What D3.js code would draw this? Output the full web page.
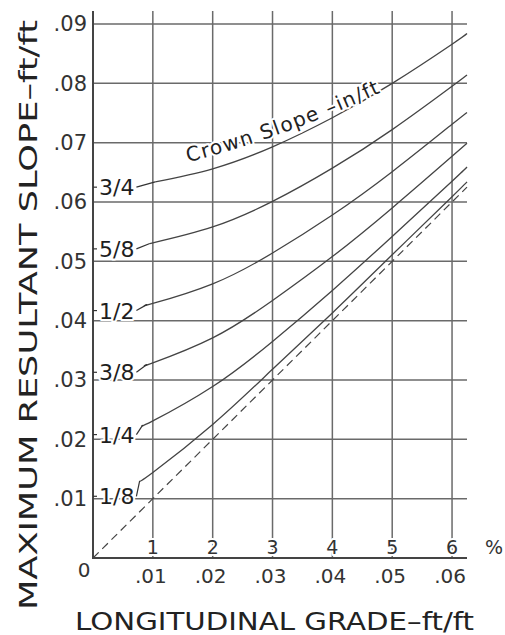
<!DOCTYPE html>
<html><head><meta charset="utf-8">
<script src="https://cdn.jsdelivr.net/npm/d3@7"></script>
<style>body{margin:0;background:#fff}svg{display:block}</style>
</head><body>
<script>
// ---- data ----
const crownLabels = ["3/4","5/8","1/2","3/8","1/4","1/8"];
const crownValues = [0.0625,0.0521,0.0417,0.0313,0.0208,0.0104]; // ft/ft
const gradeStart = [0.0104,0.0095,0.0090,0.0090,0.0083,0.0078];
const grades = [0.01,0.02,0.03,0.04,0.05,0.06,0.0625];
const seriesStartY = [0.0634,0.0530,0.0427,0.0326,0.0224,0.0130];
const series = [
  [0.0633,0.0656,0.0693,0.0742,0.0800,0.0866,0.0884],
  [0.0530,0.0558,0.0601,0.0657,0.0722,0.0795,0.0814],
  [0.0429,0.0462,0.0514,0.0578,0.0651,0.0731,0.0751],
  [0.0329,0.0371,0.0434,0.0508,0.0590,0.0677,0.0699],
  [0.0231,0.0289,0.0365,0.0451,0.0542,0.0635,0.0659],
  [0.0144,0.0225,0.0318,0.0413,0.0511,0.0609,0.0634]
];
const diagonal = [[0,0],[0.0625,0.0625]];
const yTicks = [0.01,0.02,0.03,0.04,0.05,0.06,0.07,0.08,0.09];
const yTickLabels = [".01",".02",".03",".04",".05",".06",".07",".08",".09"];
const xTicks = [0.01,0.02,0.03,0.04,0.05,0.06];
const xTickLabels = [".01",".02",".03",".04",".05",".06"];
const pctLabels = ["1","2","3","4","5","6"];

const W=505,H=635;
const svg=d3.select("body").append("svg").attr("width",W).attr("height",H);
const x=d3.scaleLinear().domain([0,0.0625]).range([93,467]);
const y=d3.scaleLinear().domain([0,0.09]).range([558,24]);
const font="'DejaVu Sans', sans-serif";
const ink="#333", grid="#6a6a6a";

// grid
const g=svg.append("g");
g.selectAll(".hg").data(yTicks).join("line")
  .attr("x1",x(0)).attr("x2",x(0.0625)).attr("y1",d=>y(d)).attr("y2",d=>y(d))
  .attr("stroke",grid).attr("stroke-width",1.5);
g.selectAll(".vg").data(xTicks).join("line")
  .attr("x1",d=>x(d)).attr("x2",d=>x(d)).attr("y1",y(0)).attr("y2",y(0.0922))
  .attr("stroke",grid).attr("stroke-width",1.5);
// axes lines
g.append("line").attr("x1",x(0)).attr("x2",x(0)).attr("y1",y(0)+1).attr("y2",y(0.0922)).attr("stroke","#444").attr("stroke-width",2);
g.append("line").attr("x1",x(0)).attr("x2",x(0.0625)).attr("y1",y(0)).attr("y2",y(0)).attr("stroke","#444").attr("stroke-width",2);

// curves
const line=d3.line().x(d=>x(d[0])).y(d=>y(d[1])).curve(d3.curveNatural);
series.forEach((s,i)=>{
  const pts=[[gradeStart[i],seriesStartY[i]]].concat(grades.map((gv,j)=>[gv,s[j]]).filter(p=>p[0]>gradeStart[i]+0.0005));
  svg.append("path").attr("d",line(pts)).attr("fill","none").attr("stroke","#444").attr("stroke-width",1.3);
});
svg.append("path").attr("d",d3.line().x(d=>x(d[0])).y(d=>y(d[1]))(diagonal))
  .attr("fill","none").attr("stroke","#444").attr("stroke-width",1.2).attr("stroke-dasharray","8,5");

// crown labels
const halo=sel=>sel.attr("stroke","#fff").attr("stroke-width",4).attr("paint-order","stroke").attr("stroke-linejoin","round");
crownLabels.forEach((lab,i)=>{
  const yy=y(crownValues[i]);
  svg.append("line").attr("x1",x(0)).attr("x2",x(0)+4).attr("y1",yy).attr("y2",yy).attr("stroke",ink).attr("stroke-width",1.2);
  const t=svg.append("text").attr("x",x(0)+6).attr("y",yy).attr("dy","0.36em")
    .attr("font-family",font).attr("font-size",22).attr("fill","#1e1e1e").text(lab).call(halo);
  const x1=x(0)+6+t.node().getComputedTextLength()+2;
  const x2=x(gradeStart[i]);
  if(x2>x1+1) svg.append("line").attr("x1",x1).attr("x2",x2).attr("y1",yy).attr("y2",y(seriesStartY[i])).attr("stroke",ink).attr("stroke-width",1.2);
});

// Crown slope annotation along a gentle arc
svg.append("defs").append("path").attr("id","cs")
  .attr("d",`M${x(0.0159)},${y(0.0667)} Q${x(0.0319)},${y(0.0709)} ${x(0.0482)},${y(0.0785)}`);
svg.append("text").attr("font-family",font).attr("font-size",20).attr("fill","#222")
  .append("textPath").attr("href","#cs").attr("startOffset",0)
  .attr("textLength",205).attr("lengthAdjust","spacing").text("Crown Slope –in/ft")
  .call(halo);

// y tick labels
svg.selectAll(".yl").data(yTicks).join("text")
  .attr("x",x(0)-6).attr("y",d=>y(d)).attr("dy","0.35em").attr("text-anchor","end")
  .attr("font-family",font).attr("font-size",21).attr("fill",ink)
  .text((d,i)=>yTickLabels[i]);
// x tick labels
svg.selectAll(".xl").data(xTicks).join("text")
  .attr("x",d=>x(d)-2).attr("y",y(0)+25).attr("text-anchor","middle")
  .attr("font-family",font).attr("font-size",20).attr("fill",ink)
  .text((d,i)=>xTickLabels[i]);
svg.append("text").attr("x",x(0)-9).attr("y",y(0)+19).attr("text-anchor","middle")
  .attr("font-family",font).attr("font-size",20).attr("fill",ink).text("0");
// percent labels
svg.selectAll(".pl").data(xTicks).join("text")
  .attr("x",d=>x(d)).attr("y",y(0)-4).attr("text-anchor","middle")
  .attr("font-family",font).attr("font-size",19).attr("fill",ink)
  .text((d,i)=>pctLabels[i]).call(halo);
svg.append("text").attr("x",494).attr("y",y(0)-4).attr("text-anchor","middle")
  .attr("font-family",font).attr("font-size",19).attr("fill",ink).text("%");

// axis titles
svg.append("text").attr("x",75).attr("y",630)
  .attr("font-family",font).attr("font-size",25).attr("fill","#222")
  .attr("textLength",399).attr("lengthAdjust","spacingAndGlyphs").text("LONGITUDINAL GRADE–ft/ft");
svg.append("text").attr("transform","translate(37,610) rotate(-90)")
  .attr("font-family",font).attr("font-size",25).attr("fill","#222")
  .attr("textLength",590).attr("lengthAdjust","spacingAndGlyphs").text("MAXIMUM RESULTANT SLOPE–ft/ft");
</script>
</body></html>
